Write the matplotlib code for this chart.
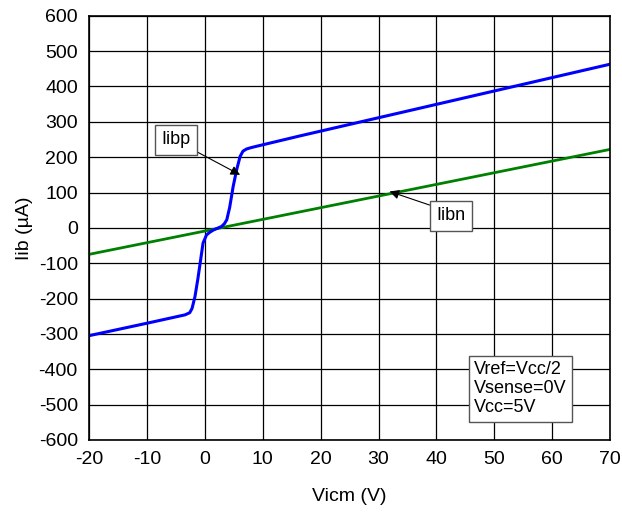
import numpy as np
import matplotlib.pyplot as plt

plt.rcParams['font.family'] = ['Liberation Sans', 'DejaVu Sans']
plt.rcParams['axes.unicode_minus'] = False

# Iibp (blue)
vicm_p = [-20, -9.5, -3.4, -2.6, -2.2, -1.7, -1.2, -0.8, -0.3, 0.3, 0.9, 1.5, 2.2, 2.9, 3.4, 3.8,
          4.3, 4.9, 5.5, 6.1, 6.6, 7.2, 8.0, 9.0, 16.4, 70]
iibp = [-305, -268, -246, -240, -228, -195, -145, -100, -43, -20, -12, -6, -1, 4, 12, 23,
        58, 117, 164, 202, 217, 223, 227, 231, 260, 463]

# Iibn (green)
vicm_n = [-20, 70]
iibn = [-75, 222]

fig = plt.figure(figsize=(6.22, 5.18), dpi=100)
ax = fig.add_axes([0.143, 0.1506, 0.838, 0.819])

ax.plot(vicm_n, iibn, color='#008000', lw=2.0)
ax.plot(vicm_p, iibp, color='#0000ff', lw=2.2)

ax.set_xlim(-20, 70)
ax.set_ylim(-600, 600)
ax.set_xticks(np.arange(-20, 71, 10))
ax.set_yticks(np.arange(-600, 601, 100))
ax.grid(True, color='black', lw=0.9)
ax.tick_params(length=0, labelsize=14, pad=8)
for s in ax.spines.values():
    s.set_linewidth(1.2)

ax.set_xlabel('Vicm (V)', fontsize=14, labelpad=14)
ax.set_ylabel('Iib (µA)', fontsize=14, labelpad=4)

box = dict(boxstyle='square,pad=0.35', fc='white', ec='#555555', lw=1)
ax.annotate('Iibp', xy=(6.1, 150), xytext=(-5.0, 249), fontsize=13, ha='center', va='center',
            bbox=box, arrowprops=dict(arrowstyle='-|>', color='black', lw=0.8, mutation_scale=14,
                                      shrinkA=0, shrinkB=0, relpos=(1, 0)))
ax.annotate('Iibn', xy=(31.9, 103), xytext=(42.5, 34), fontsize=13, ha='center', va='center',
            bbox=box, arrowprops=dict(arrowstyle='-|>', color='black', lw=0.8, mutation_scale=14,
                                      shrinkA=0, shrinkB=0, relpos=(0, 1)))

ax.text(46.5, -455, 'Vref=Vcc/2\nVsense=0V\nVcc=5V', fontsize=13, ha='left', va='center',
        linespacing=1.15,
        bbox=dict(boxstyle='square,pad=0.3', fc='white', ec='#555555', lw=1))

fig.savefig('out.png', dpi=100)
